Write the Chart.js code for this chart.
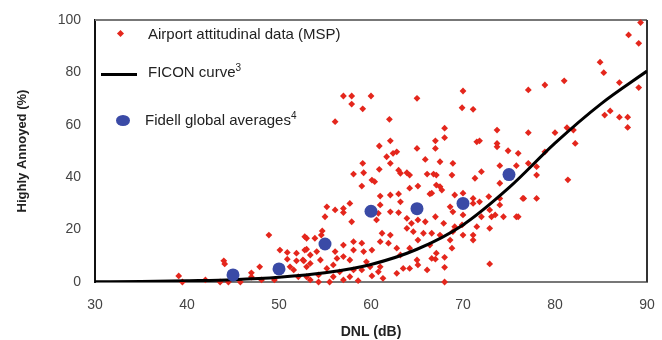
<!DOCTYPE html>
<html>
<head>
<meta charset="utf-8">
<script src="https://cdn.jsdelivr.net/npm/chart.js@4.4.0/dist/chart.umd.min.js"></script>
<style>
  body { margin: 0; background: #fff; }
  .wrap { position: relative; width: 662px; height: 340px; font-family: 'Liberation Sans', Arial, sans-serif; }
  .leg { position: absolute; font-size: 15px; color: #222; line-height: 16px; white-space: nowrap; }
  .leg sup { font-size: 10px; vertical-align: 6px; line-height: 0; }
  .mk { position: absolute; display: block; }
</style>
</head>
<body>
<div class="wrap">
  <canvas id="myChart" width="662" height="340"></canvas>
  <span class="mk" style="left:118px;top:31px;width:5px;height:5px;background:#e4261c;transform:rotate(45deg)"></span>
  <div class="leg" style="left:148px;top:26px">Airport attitudinal data (MSP)</div>
  <span class="mk" style="left:101px;top:73px;width:36px;height:3px;background:#000"></span>
  <div class="leg" style="left:148px;top:64px">FICON curve<sup>3</sup></div>
  <span class="mk" style="left:116px;top:115px;width:14px;height:11px;border-radius:50%;background:#3a4aa6"></span>
  <div class="leg" style="left:145px;top:112px">Fidell global averages<sup>4</sup></div>
</div>
<script>
'use strict';

// axis ticks
const dnlTicks = [30, 40, 50, 60, 70, 80, 90];
const pctTicks = [0, 20, 40, 60, 80, 100];

// Fidell global averages
const fidellDnl = [45, 50, 55, 60, 65, 70, 75];
const fidellPct = [2.7, 5, 14.5, 27, 28, 30, 41];

// FICON curve, read every 5 dB
const ficonDnl = [30, 35, 40, 45, 50, 55, 60, 65, 70, 75, 80, 85, 90];
const ficonPct = [0.1, 0.2, 0.5, 0.9, 1.8, 3.5, 6.7, 12.5, 21.8, 36, 53, 68, 80.5];

// airport attitudinal data (MSP)
const mspDnl = [
  39.1, 39.5, 42.0, 43.6, 44.0, 44.1, 44.5, 45.8, 47.0, 47.0, 47.9, 48.1, 48.9, 49.5,
  50.1, 50.9, 51.9, 53.0, 53.0, 50.9, 51.9, 52.7, 51.2, 51.6, 52.1, 53.0, 53.0,
  54.6, 54.7,
  58.1, 59.2, 60.1, 60.4, 63.2, 64.2, 66.1, 67.1, 59.0, 64.2, 65.1, 66.4, 67.1,
  61.0, 62.1, 63.0, 63.2, 55.2, 56.1, 57.0, 57.7, 57.0, 55.0, 57.9, 61.0, 60.8,
  62.1, 63.0, 60.6, 63.9, 64.4, 65.1, 65.9, 63.9, 64.6, 65.1, 65.7, 66.6, 52.8,
  53.9, 52.8, 53.4, 54.1, 56.1, 56.3, 54.5, 53.4, 52.6, 55.2, 55.9, 57.0, 57.7,
  58.1, 57.0, 58.1, 59.0, 59.2, 60.1, 61.0, 61.2, 62.1, 61.9, 62.8, 63.2, 64.2,
  65.0, 63.5, 62.8, 61.0, 60.8, 59.9, 59.5, 59.0, 58.1, 57.7, 56.6, 55.9, 54.3,
  53.4, 54.3, 55.5, 57.0, 58.6, 60.1, 61.3, 66.1, 65.1, 64.2, 67.1, 66.6,
  66.8, 68.8, 71.3, 72.0, 74.0, 78.0, 67.5, 67.7, 66.6, 69.1, 70.0, 71.1, 71.8,
  72.8, 74.0, 74.0, 76.6, 78.0, 68.6, 68.9, 70.0, 67.0, 67.9, 71.1, 72.0, 72.9,
  73.1, 73.5, 74.4, 76.0, 69.1, 68.9, 69.9, 70.0, 71.1, 71.1, 71.5, 72.9, 72.9,
  68.6, 67.5, 68.8, 68.0, 67.0, 68.0, 68.0, 66.4, 76.5, 75.8,
  57.0, 57.9, 60.0, 57.9, 59.1, 56.1, 62.0, 65.0, 62.1, 60.9, 62.8, 62.4, 61.7,
  65.0, 67.0, 67.0, 65.9, 62.1, 59.1, 60.9, 63.0, 63.9, 67.5,
  70.0, 69.9, 71.1, 77.1, 78.9, 81.0, 84.9, 85.3, 88.0, 89.1, 89.3, 87.0, 89.1,
  85.4, 86.0, 87.0, 87.9, 87.9, 68.0, 68.0, 71.5, 71.8, 73.7, 73.7, 73.7, 74.9,
  76.0, 77.1, 77.1, 78.0, 78.9, 80.0, 81.3, 82.0, 82.2, 74.0, 75.8, 68.9, 81.4
];
const mspPct = [
  2.3, 0, 0.8, 0, 8.1, 6.9, 0, 0, 3.5, 1.9, 5.8, 0.8, 17.9, 0.8,
  12.2, 11.3, 11.0, 16.7, 12.5, 8.7, 8.1, 8.1, 5.8, 4.6, 2.0, 5.8, 2.0,
  17.9, 19.5,
  41.2, 41.7, 38.9, 38.3, 41.5, 40.8, 41.2, 40.8, 36.6, 35.8, 36.6, 33.6, 37.0,
  32.8, 33.2, 33.6, 30.6, 28.7, 27.5, 28.1, 30.0, 26.5, 24.9, 23.0, 29.4, 26.2,
  26.8, 26.5, 23.7, 24.3, 22.4, 23.7, 23.0, 20.5, 19.2, 16.0, 18.6, 18.6, 17.3,
  16.7, 12.2, 10.3, 11.6, 11.6, 9.0, 8.4, 7.1, 8.4, 5.2, 6.5, 9.7, 8.4,
  12.2, 14.1, 15.4, 14.8, 11.6, 12.2, 15.4, 18.6, 17.9, 14.8, 12.9, 10.3, 12.9,
  8.4, 5.2, 3.3, 5.8, 3.9, 5.8, 7.7, 4.6, 4.6, 2.0, 3.9, 2.0, 2.7,
  0.8, 0, 0, 0.8, 0.5, 2.3, 1.4, 4.6, 6.5, 5.2, 11.0, 9.0,
  41.2, 40.8, 39.6, 42.1, 37.7, 40.8, 36.4, 35.1, 33.9, 33.2, 33.9, 31.9, 30.6,
  32.6, 31.9, 29.4, 31.9, 31.9, 28.7, 26.8, 25.6, 24.9, 22.4, 30.0, 24.9, 27.5,
  24.9, 25.6, 24.9, 24.9, 21.1, 19.2, 21.8, 17.9, 17.9, 16.0, 21.1, 20.5, 6.9,
  16.0, 17.9, 12.9, 9.4, 8.7, 5.6, 0, 14.1, 31.9, 24.9,
  71.0, 71.0, 71.0, 67.9, 66.1, 61.2, 62.1, 70.1, 53.9, 51.9, 49.7, 49.1, 47.8,
  51.0, 53.9, 51.0, 46.8, 45.3, 45.3, 43.0, 42.7, 41.7, 45.9,
  72.9, 66.5, 65.9, 73.3, 75.2, 76.8, 83.9, 79.9, 94.3, 91.1, 99.0, 76.1, 74.2,
  63.7, 65.3, 62.9, 62.9, 59.0, 58.7, 55.1, 53.5, 53.9, 58.0, 52.9, 51.6, 50.1,
  49.1, 57.0, 45.3, 44.0, 49.7, 57.0, 58.9, 58.0, 52.9, 44.4, 44.4, 45.3, 39.0
];

const toPoints = (xs, ys) => xs.map((x, i) => ({ x: x, y: ys[i] }));

Chart.defaults.font.family = "'Liberation Sans', Arial, sans-serif";

// box around the plot: gray top, dark right
const frame = {
  id: 'frame',
  beforeDatasetsDraw(chart) {
    const c = chart.ctx;
    const a = chart.chartArea;
    c.save();
    c.lineWidth = 2;
    c.strokeStyle = '#777';
    c.beginPath();
    c.moveTo(a.left, a.top);
    c.lineTo(a.right, a.top);
    c.stroke();
    c.strokeStyle = '#333';
    c.beginPath();
    c.moveTo(a.right, a.top);
    c.lineTo(a.right, a.bottom);
    c.stroke();
    c.restore();
  }
};

const ctx = document.getElementById('myChart').getContext('2d');
const myChart = new Chart(ctx, {
  type: 'scatter',
  data: {
    datasets: [
      {
        label: 'Fidell global averages',
        data: toPoints(fidellDnl, fidellPct),
        pointStyle: 'circle',
        pointRadius: 6.5,
        backgroundColor: '#3a4aa6',
        borderWidth: 0,
        clip: false,
        order: 0
      },
      {
        label: 'FICON curve',
        type: 'line',
        data: toPoints(ficonDnl, ficonPct),
        borderColor: '#000',
        borderWidth: 3,
        pointRadius: 0,
        cubicInterpolationMode: 'monotone',
        fill: false,
        order: 1
      },
      {
        label: 'Airport attitudinal data (MSP)',
        data: toPoints(mspDnl, mspPct),
        pointStyle: 'rectRot',
        pointRadius: 3.4,
        backgroundColor: '#e4261c',
        borderWidth: 0,
        clip: false,
        order: 2
      }
    ]
  },
  options: {
    responsive: false,
    animation: false,
    layout: { padding: { top: 20, right: 15, left: 0, bottom: 0 } },
    plugins: {
      legend: { display: false },
      tooltip: { enabled: false }
    },
    scales: {
      x: {
        type: 'linear',
        min: dnlTicks[0],
        max: dnlTicks[dnlTicks.length - 1],
        afterBuildTicks: (s) => { s.ticks = dnlTicks.map(v => ({ value: v })); },
        ticks: { padding: 15, color: '#444', font: { size: 14 } },
        grid: { display: false, drawTicks: false },
        border: { color: '#777', width: 2 },
        title: { display: true, text: 'DNL (dB)', color: '#222', font: { size: 14, weight: 'bold', lineHeight: 1 }, padding: { top: 0, bottom: 1 } },
        afterFit: (s) => { s.height = 58; s.paddingLeft = 0; s.paddingRight = 0; }
      },
      y: {
        min: pctTicks[0],
        max: pctTicks[pctTicks.length - 1],
        afterBuildTicks: (s) => { s.ticks = pctTicks.map(v => ({ value: v })); },
        ticks: { padding: 14, color: '#444', font: { size: 14 } },
        grid: { display: false, drawTicks: false },
        border: { color: '#111', width: 2 },
        title: { display: true, text: 'Highly Annoyed (%)', color: '#222', font: { size: 13, weight: 'bold' }, padding: { top: 15, bottom: 0 } },
        afterFit: (s) => { s.width = 95; s.paddingTop = 0; s.paddingBottom = 0; }
      }
    }
  },
  plugins: [frame]
});
</script>
</body>
</html>
